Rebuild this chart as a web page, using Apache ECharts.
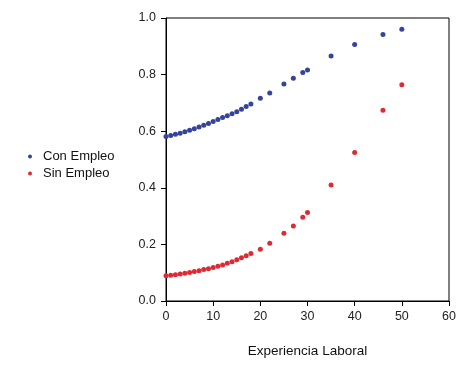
<!DOCTYPE html>
<html>
<head>
<meta charset="utf-8">
<script src="https://cdn.jsdelivr.net/npm/echarts@6/dist/echarts.min.js"></script>
<style>html,body{margin:0;padding:0;background:#fff}#c{width:466px;height:366px}</style>
</head>
<body>
<div id="c"></div>
<script>
var experiencia = [0,1,2,3,4,5,6,7,8,9,10,11,12,13,14,15,16,17,18,20,22,25,27,29,30,35,40,46,50];
var conEmpleo = [0.581,0.585,0.589,0.593,0.598,0.603,0.609,0.615,0.621,0.627,0.634,0.641,0.648,0.655,0.662,0.669,0.678,0.687,0.696,0.716,0.735,0.767,0.787,0.807,0.816,0.866,0.906,0.942,0.960];
var sinEmpleo = [0.089,0.091,0.093,0.095,0.098,0.101,0.104,0.107,0.111,0.114,0.118,0.123,0.127,0.133,0.139,0.146,0.153,0.160,0.168,0.183,0.204,0.239,0.265,0.296,0.313,0.410,0.525,0.674,0.764];
var xTicks = [0,10,20,30,40,50,60];
var yTicks = [0.0,0.2,0.4,0.6,0.8,1.0];
var seriesNames = ['Con Empleo','Sin Empleo'];

function pairs(xs, ys){ return xs.map(function(x,i){ return [x, ys[i]]; }); }
var font = 'Liberation Sans, Arial, sans-serif';
var chart = echarts.init(document.getElementById('c'), null, {renderer:'canvas'});
chart.setOption({
  animation:false,
  textStyle:{fontFamily:font},
  grid:{left:166,right:17,top:18,bottom:65,show:true,borderColor:'#000',borderWidth:1,backgroundColor:'transparent'},
  legend:{
    orient:'vertical', left:23, top:145,
    itemWidth:16, itemHeight:4, itemGap:4,
    textStyle:{fontSize:13,color:'#111',fontFamily:font},
    data:[{name:seriesNames[0],icon:'circle'},{name:seriesNames[1],icon:'circle'}]
  },
  xAxis:{
    type:'value', min:xTicks[0], max:xTicks[xTicks.length-1], interval:10,
    name:'Experiencia Laboral', nameLocation:'middle', nameGap:43,
    nameTextStyle:{fontSize:13.5,color:'#111',fontFamily:font},
    axisLine:{show:true,lineStyle:{color:'#000',width:1}},
    axisTick:{show:true,length:5,lineStyle:{color:'#000'}},
    axisLabel:{fontSize:12.5,color:'#222',margin:9,fontFamily:font},
    splitLine:{show:false}
  },
  yAxis:{
    type:'value', min:yTicks[0], max:yTicks[yTicks.length-1], interval:0.2,
    axisLine:{show:true,lineStyle:{color:'#000',width:1}},
    axisTick:{show:true,length:5,lineStyle:{color:'#000'}},
    axisLabel:{fontSize:12.5,color:'#222',margin:10,fontFamily:font,formatter:function(v){return v.toFixed(1);}},
    splitLine:{show:false}
  },
  series:[
    {name:seriesNames[0],type:'scatter',symbol:'circle',symbolSize:5,itemStyle:{color:'#34449a',opacity:1},data:pairs(experiencia,conEmpleo)},
    {name:seriesNames[1],type:'scatter',symbol:'circle',symbolSize:5,itemStyle:{color:'#e02a33',opacity:1},data:pairs(experiencia,sinEmpleo)}
  ]
});
</script>
</body>
</html>
